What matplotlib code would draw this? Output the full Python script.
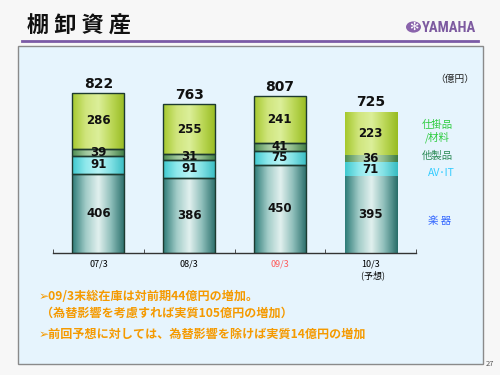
import matplotlib
matplotlib.use("Agg")
import matplotlib.pyplot as plt
import numpy as np
from matplotlib.colors import LinearSegmentedColormap
from matplotlib.patches import Rectangle, Circle
from matplotlib.lines import Line2D

plt.rcParams['font.family'] = ['Noto Sans CJK JP', 'DejaVu Sans']

categories = ["07/3", "08/3", "09/3", "10/3\n  (予想)"]
gakki = [406, 386, 450, 395]
avit = [91, 91, 75, 71]
other = [39, 31, 41, 36]
wip = [286, 255, 241, 223]
totals = [822, 763, 807, 725]
series_names = ["楽 器", "AV･IT", "他製品", "仕掛品\n/材料"]

W, H = 500, 375
fig = plt.figure(figsize=(5, 3.75), dpi=100)
fig.patch.set_facecolor("#f7f7f7")

def fx(px):
    return px / W

def fy(py):
    return 1 - py / H

# panel
panel = Rectangle((fx(18), fy(364)), fx(483) - fx(18), fy(45.6) - fy(364),
                  transform=fig.transFigure, facecolor="#e6f4fd",
                  edgecolor="#8a8a8a", linewidth=1.0, zorder=-10)
fig.patches.append(panel)

# header
fig.text(fx(27), fy(26), "棚 卸 資 産", fontsize=16, fontweight="bold",
         color="#111111", ha="left", va="center")
fig.lines.append(Line2D([fx(22), fx(478)], [fy(40.5), fy(40.5)],
                        transform=fig.transFigure, color="#7b5aa6", lw=2))
fig.patches.append(Circle((fx(413.5), fy(27)), 7.5 / W, transform=fig.transFigure,
                          facecolor="#8a64ac", edgecolor="none"))
fig.text(fx(413.5), fy(27), "✻", fontsize=8, color="white", ha="center",
         va="center", family=["DejaVu Sans"])
fig.text(fx(422), fy(27.5), "YAMAHA", fontsize=10.5, fontweight="bold",
         color="#7d5aa0", ha="left", va="center",
         family=["Liberation Sans Narrow", "DejaVu Sans Condensed", "Roboto Condensed", "DejaVu Sans"])

ax = fig.add_axes([fx(53), fy(252.7), fx(416) - fx(53), fy(70) - fy(252.7)])
ax.set_facecolor("none")
ax.set_zorder(1)

x = np.arange(len(categories))
width = 0.575

cmaps = [
    LinearSegmentedColormap.from_list("g", ["#2f7c78", "#9fcac6", "#e2f1ef", "#8bbcb8", "#2a6e6a"]),
    LinearSegmentedColormap.from_list("a", ["#3fc9cf", "#8ee8ec", "#b8f4f6", "#7fe0e4", "#38bcc2"]),
    LinearSegmentedColormap.from_list("o", ["#4f8e52", "#9cc59a", "#c8e0c0", "#8ab888", "#3f7d44"]),
    LinearSegmentedColormap.from_list("w", ["#a6c92e", "#cfe57c", "#dcef9a", "#bcd858", "#98bc22"]),
]

bottoms = np.zeros(len(categories))
grad = np.linspace(0, 1, 64).reshape(1, -1)
for vals, cm in zip([gakki, avit, other, wip], cmaps):
    bars = ax.bar(x, vals, width, bottom=bottoms, facecolor="none",
                  edgecolor="#1d3a30", linewidth=1.0, zorder=3)
    for i, p in enumerate(bars.patches):
        if i == 3:
            p.set_edgecolor("none")
        x0, y0 = p.get_x(), p.get_y()
        im = ax.imshow(grad, cmap=cm, extent=(x0, x0 + p.get_width(), y0, y0 + p.get_height()),
                       aspect="auto", zorder=2, interpolation="bilinear")
        im.set_clip_path(p)
        ax.text(x0 + p.get_width() / 2, y0 + p.get_height() / 2, str(vals[i]),
                ha="center", va="center", fontsize=8.5, fontweight="bold",
                color="#111111", zorder=4, family=["DejaVu Sans"])
    bottoms += np.array(vals)

for i, t in enumerate(totals):
    ax.text(x[i], t + 12, str(t), ha="center", va="bottom", fontsize=10,
            fontweight="bold", color="#111111", family=["DejaVu Sans"])

ax.set_xlim(-0.5, 3.5)
ax.set_ylim(0, 940)
for s in ["top", "right", "left"]:
    ax.spines[s].set_visible(False)
ax.spines["bottom"].set_color("#333333")
ax.spines["bottom"].set_linewidth(1.0)
ax.set_yticks([])
ax.set_xticks(x)
ax.set_xticklabels(categories, fontsize=6.5)
ax.tick_params(axis="x", which="major", length=0, pad=5)
ax.set_xticks(np.arange(-0.5, 4.0, 1.0), minor=True)
ax.tick_params(axis="x", which="minor", length=3, direction="in", color="#333333")
ax.get_xticklabels()[2].set_color("#ff5a5a")

# unit & legend labels
fig.text(fx(455), fy(79), "（億円）", fontsize=7, color="#222222", ha="center", va="center")
fig.text(fx(437), fy(131.5), series_names[3], fontsize=7.5, color="#2ecc40",
         ha="center", va="center", linespacing=1.1)
fig.text(fx(437), fy(155.5), series_names[2], fontsize=7.5, color="#2e8b57",
         ha="center", va="center")
fig.text(fx(441), fy(173), series_names[1], fontsize=7.5, color="#33ccff",
         ha="center", va="center")
fig.text(fx(440), fy(221), series_names[0], fontsize=7.5, color="#3366ff",
         ha="center", va="center")

orange = "#f59a00"
fig.text(fx(39), fy(296.5), "➢09/3末総在庫は対前期44億円の増加。", fontsize=8.7,
         fontweight="bold", color=orange, ha="left", va="center")
fig.text(fx(41), fy(313), "（為替影響を考慮すれば実質105億円の増加）", fontsize=8.7,
         fontweight="bold", color=orange, ha="left", va="center")
fig.text(fx(39), fy(334), "➢前回予想に対しては、為替影響を除けば実質14億円の増加", fontsize=8.7,
         fontweight="bold", color=orange, ha="left", va="center")

fig.text(fx(490), fy(364), "27", fontsize=5.5, color="#555555", ha="center", va="center")

fig.savefig("out.png", dpi=100, facecolor=fig.get_facecolor())
